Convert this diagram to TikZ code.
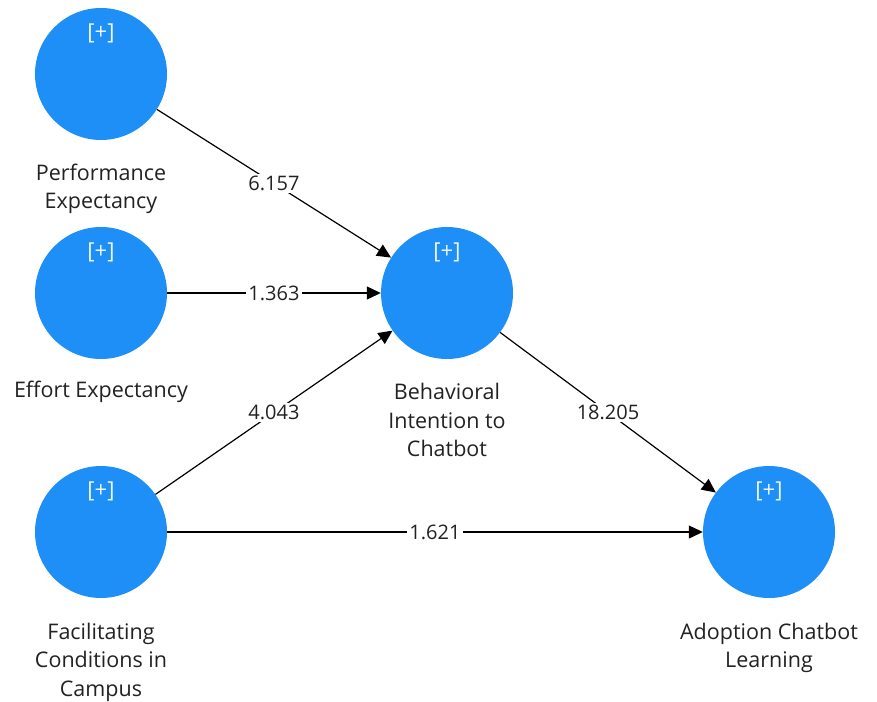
\documentclass[tikz,border=0pt]{standalone}
\usepackage{fontspec}
\setmainfont{Open Sans}
\usepackage{xcolor}
\usetikzlibrary{arrows.meta}
\definecolor{construct_blue}{HTML}{1E8FF7}
\definecolor{text_dark}{HTML}{222222}

\begin{document}
\begin{tikzpicture}[x=1pt, y=-1pt,
    construct/.style={circle, fill=construct_blue, minimum size=132pt, inner sep=0pt},
    plusmark/.style={text=white!92!construct_blue, font=\fontsize{22}{24}\selectfont, inner sep=0pt},
    caption/.style={align=center, text=text_dark, font=\fontsize{21.5}{28.5}\selectfont, inner sep=0pt},
    coef/.style={fill=white, text=text_dark, font=\fontsize{20}{22}\selectfont, inner sep=2pt},
    pathline/.style={line width=1.2pt, -{Triangle[length=14pt, width=13pt]}}]

    \useasboundingbox (0,0) rectangle (877,701);

    % Draw the constructs
    \node[construct] (pe) at (101,74) {};
    \node[construct] (ee) at (101,293) {};
    \node[construct] (fc) at (101,532) {};
    \node[construct] (bi) at (447,293) {};
    \node[construct] (ad) at (769,532) {};

    % Expand markers on top of each construct
    \foreach \c in {pe,ee,fc,bi,ad}
        \node[plusmark] (\c_plus) at ([yshift=41pt]\c.center) {[+]};

    % Construct names below the circles
    \node[caption] (pe_name) at (101,189) {Performance\\Expectancy};
    \node[caption] (ee_name) at (101,392) {Effort Expectancy};
    \node[caption] (fc_name) at (101,662) {Facilitating\\Conditions in\\Campus};
    \node[caption] (bi_name) at (447,420) {Behavioral\\Intention to\\Chatbot};
    \node[caption] (ad_name) at (769,648) {Adoption Chatbot\\Learning};

    % Path coefficients
    \draw[pathline] (pe) -- node[coef] {6.157} (bi);
    \draw[pathline] (ee) -- node[coef] {1.363} (bi);
    \draw[pathline] (fc) -- node[coef] {4.043} (bi);
    \draw[pathline] (bi) -- node[coef] {18.205} (ad);
    \draw[pathline] (fc) -- node[coef] {1.621} (ad);
\end{tikzpicture}
\end{document}
